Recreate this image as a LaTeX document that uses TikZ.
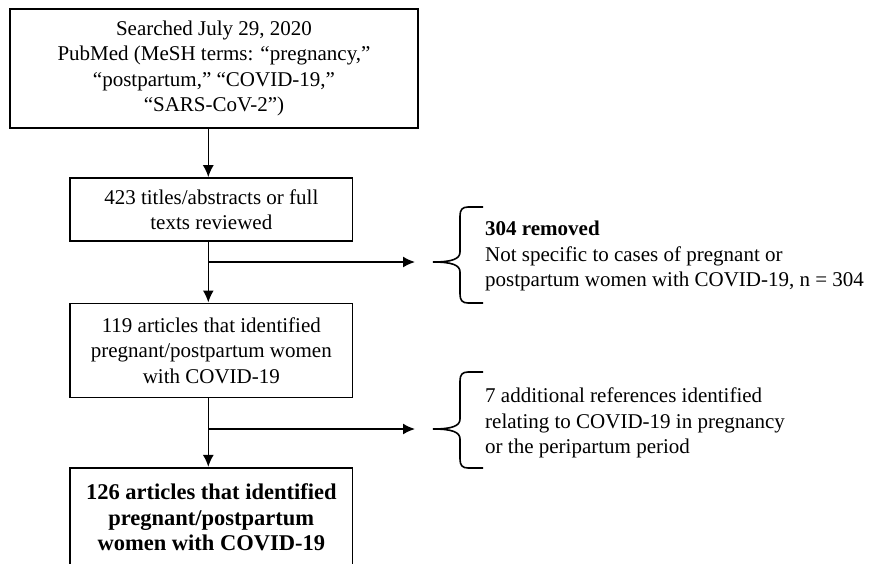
\documentclass[tikz,border=0pt]{standalone}
\usepackage{fontspec}
\setmainfont{Liberation Serif}
\usetikzlibrary{arrows.meta}

\begin{document}
\begin{tikzpicture}[x=1pt,y=-1pt,
    box/.style={draw,line width=1.6pt,align=center,inner sep=0pt,font=\fontsize{21}{25.5}\selectfont},
    note/.style={anchor=west,align=left,inner sep=0pt,font=\fontsize{21}{25.5}\selectfont},
    flow/.style={line width=1.6pt,-{Latex[length=12pt,width=11pt]}},
    curly/.style={line width=1.6pt}]
  \useasboundingbox (0,0) rectangle (879,563);
  \node[box,minimum width=408pt,minimum height=119pt] (search) at (214,68.5)
    {Searched July 29, 2020\\PubMed (MeSH terms: “pregnancy,”\\“postpartum,” “COVID-19,”\\“SARS-CoV-2”)};
  \node[box,minimum width=282.7pt,minimum height=63pt] (screen) at (211.3,209.5)
    {423 titles/abstracts or full\\texts reviewed};
  \node[box,minimum width=282.7pt,minimum height=94pt] (found) at (211.3,350.3)
    {119 articles that identified\\pregnant/postpartum women\\with COVID-19};
  \node[box,minimum width=282.7pt,minimum height=100pt,font=\fontsize{22.5}{25.5}\selectfont\bfseries] (final) at (211.3,517.7)
    {126 articles that identified\\pregnant/postpartum\\women with COVID-19};
  \node[note] (removed) at (485,256)
    {\textbf{304 removed}\\Not specific to cases of pregnant or\\postpartum women with COVID-19, n = 304};
  \node[note] (added) at (485,423)
    {7 additional references identified\\relating to COVID-19 in pregnancy\\or the peripartum period};
  \coordinate (spine) at (208.3,0);
  \coordinate (splitA) at (208.3,262);
  \coordinate (endA) at (415,262);
  \coordinate (splitB) at (208.3,429);
  \coordinate (endB) at (415,429);
  \draw[flow] (search.south -| spine) -- (screen.north -| spine);
  \draw[flow] (screen.south -| spine) -- (found.north -| spine);
  \draw[flow] (found.south -| spine) -- (final.north -| spine);
  \draw[flow] (splitA) -- (endA);
  \draw[flow] (splitB) -- (endB);
  \foreach \t/\m/\b in {207/262/303, 372/429/468}
    \draw[curly] (483,\t) -- (468,\t) .. controls (462,\t) and (460,\t+3) .. (460,\t+9)
      -- (460,\m-10) .. controls (460,\m-3) and (452,\m) .. (433,\m)
      .. controls (452,\m) and (460,\m+3) .. (460,\m+10)
      -- (460,\b-9) .. controls (460,\b-3) and (462,\b) .. (468,\b) -- (483,\b);
\end{tikzpicture}
\end{document}
